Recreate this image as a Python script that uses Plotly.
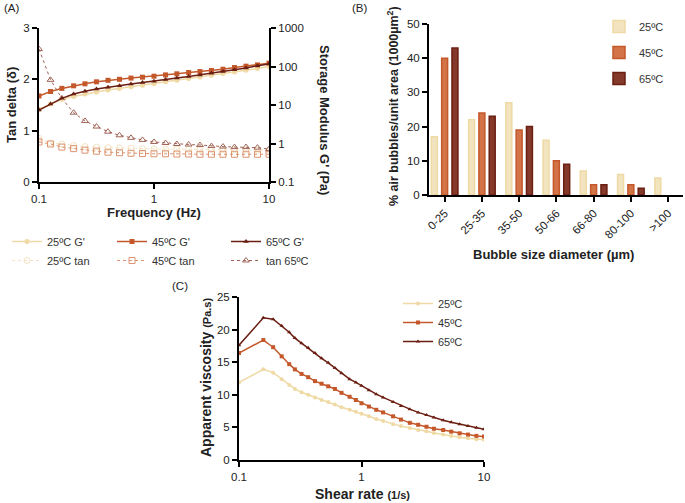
import plotly.graph_objects as go

# ---------- Panel A data ----------
freq = [0.1, 0.126, 0.158, 0.2, 0.251, 0.316, 0.398, 0.501, 0.631, 0.794, 1.0,
        1.26, 1.58, 2.0, 2.51, 3.16, 3.98, 5.01, 6.31, 7.94, 10.0]
g25 = [7.7, 10.6, 14.1, 16.6, 19.3, 21.8, 24.5, 27, 30, 32.5, 36, 40, 43.8, 48.6,
       53.5, 59, 65.5, 72.5, 80, 89, 100]
g45 = [17.2, 22.4, 27, 31.5, 35.5, 40, 43.8, 46.5, 50, 52.8, 56, 60.5, 64.5, 69.8,
       74, 79, 85, 94, 102, 110, 122]
g65 = [7.4, 10.6, 14.9, 19.3, 22.9, 25.9, 29, 31.8, 35.3, 38.4, 41.5, 45.9, 50, 55,
       60.5, 67, 74, 82, 92, 104, 117]
tan25 = [0.85, 0.76, 0.74, 0.71, 0.69, 0.68, 0.67, 0.665, 0.66, 0.65, 0.645, 0.64,
         0.64, 0.635, 0.63, 0.63, 0.63, 0.625, 0.625, 0.62, 0.62]
tan45 = [0.78, 0.74, 0.68, 0.65, 0.62, 0.60, 0.58, 0.57, 0.56, 0.555, 0.55, 0.55,
         0.545, 0.545, 0.54, 0.54, 0.54, 0.54, 0.54, 0.54, 0.54]
tan65 = [2.59, 1.99, 1.63, 1.35, 1.19, 1.08, 0.98, 0.91, 0.86, 0.82, 0.78, 0.76,
         0.74, 0.73, 0.72, 0.70, 0.69, 0.68, 0.68, 0.67, 0.64]

# ---------- Panel B data ----------
size_cats = ["0-25", "25-35", "35-50", "50-66", "66-80", "80-100", ">100"]
bub25 = [17, 22, 27, 16, 7, 6, 5]
bub45 = [40, 24, 19, 10, 3, 3, None]
bub65 = [43, 23, 20, 9, 3, 2, None]

# ---------- Panel C data ----------
shear = [0.1, 0.158, 0.19, 0.223, 0.257, 0.286, 0.324, 0.367, 0.417, 0.472, 0.535,
         0.607, 0.687, 0.8, 0.9, 1.0, 1.15, 1.32, 1.5, 1.81, 2.1, 2.48, 2.9, 3.39,
         3.9, 4.64, 5.4, 6.32, 7.4, 8.67, 10.0]
visc25 = [11.9, 13.9, 13.4, 12.4, 11.5, 10.9, 10.4, 10.0, 9.6, 9.2, 8.9, 8.5, 8.1,
          7.7, 7.4, 7.1, 6.7, 6.3, 6.0, 5.5, 5.2, 4.9, 4.6, 4.4, 4.15, 3.9, 3.7,
          3.5, 3.35, 3.2, 3.1]
visc45 = [16.4, 18.4, 17.3, 15.9, 14.7, 13.9, 13.2, 12.7, 12.1, 11.7, 11.3, 10.9,
          10.3, 9.7, 9.2, 8.7, 8.2, 7.7, 7.3, 6.7, 6.2, 5.7, 5.4, 5.1, 4.8, 4.6,
          4.35, 4.1, 3.9, 3.7, 3.6]
visc65 = [17.6, 21.8, 21.6, 20.6, 19.6, 18.7, 17.9, 17.2, 16.4, 15.6, 14.9, 14.1,
          13.3, 12.4, 11.9, 11.4, 10.7, 10.1, 9.6, 8.9, 8.3, 7.8, 7.3, 6.9, 6.5,
          6.1, 5.8, 5.5, 5.2, 4.95, 4.7]

C25, C45, C65 = "#efd9a4", "#c4582a", "#6b1e12"
T25, T45, T65 = "#f3e3c2", "#dc9470", "#a06457"
FONT = "Liberation Sans, Arial, sans-serif"

W, H = 685, 503
def fx(px):
    return px / W
def fy(py):
    return 1 - py / H

fig = go.Figure()

# Panel A traces (three legend columns)
fig.add_trace(go.Scatter(x=freq, y=g25, name="25ºC G'", mode="lines+markers",
    line=dict(color=C25, width=1.5), marker=dict(symbol="circle", size=5, color=C25),
    xaxis="x", yaxis="y2", legend="legend"))
fig.add_trace(go.Scatter(x=freq, y=tan25, name="25ºC tan", mode="lines+markers",
    line=dict(color=T25, width=1, dash="dot"),
    marker=dict(symbol="circle-open", size=6, color=T25),
    xaxis="x", yaxis="y", legend="legend"))
fig.add_trace(go.Scatter(x=freq, y=g45, name="45ºC G'", mode="lines+markers",
    line=dict(color=C45, width=1.5), marker=dict(symbol="square", size=5, color=C45),
    xaxis="x", yaxis="y2", legend="legend4"))
fig.add_trace(go.Scatter(x=freq, y=tan45, name="45ºC tan", mode="lines+markers",
    line=dict(color=T45, width=1, dash="dot"),
    marker=dict(symbol="square-open", size=6, color=T45),
    xaxis="x", yaxis="y", legend="legend4"))
fig.add_trace(go.Scatter(x=freq, y=g65, name="65ºC G'", mode="lines+markers",
    line=dict(color=C65, width=1.5), marker=dict(symbol="triangle-up", size=5, color=C65),
    xaxis="x", yaxis="y2", legend="legend5"))
fig.add_trace(go.Scatter(x=freq, y=tan65, name="tan 65ºC", mode="lines+markers",
    line=dict(color=T65, width=1, dash="dot"),
    marker=dict(symbol="triangle-up-open", size=6, color=T65),
    xaxis="x", yaxis="y", legend="legend5"))

# Panel B traces
for vals, name, col, fill, off in [(bub25, "25ºC", C25, "#f3e4c0", -0.357),
                                    (bub45, "45ºC", C45, "#d27448", -0.08),
                                    (bub65, "65ºC", C65, "#84392b", 0.197)]:
    fig.add_trace(go.Bar(x=size_cats, y=vals, name=name, width=0.16, offset=off,
        marker=dict(color=fill, line=dict(color=col, width=1.5)),
        legendgroup="b" + name,
        xaxis="x3", yaxis="y3", legend="legend2"))

# Panel C traces
fig.add_trace(go.Scatter(x=shear, y=visc25, name="25ºC", mode="lines+markers",
    line=dict(color=C25, width=1.5), marker=dict(symbol="circle", size=4, color=C25),
    xaxis="x4", yaxis="y4", legend="legend3"))
fig.add_trace(go.Scatter(x=shear, y=visc45, name="45ºC", mode="lines+markers",
    line=dict(color=C45, width=1.5), marker=dict(symbol="square", size=4, color=C45),
    xaxis="x4", yaxis="y4", legend="legend3"))
fig.add_trace(go.Scatter(x=shear, y=visc65, name="65ºC", mode="lines+markers",
    line=dict(color=C65, width=1.5), marker=dict(symbol="triangle-up", size=4, color=C65),
    xaxis="x4", yaxis="y4", legend="legend3"))

axcommon = dict(showline=True, linecolor="black", linewidth=2, ticks="outside",
                ticklen=5, tickwidth=2, tickcolor="black", showgrid=False,
                zeroline=False, automargin=False,
                tickfont=dict(family=FONT, size=11.5, color="#222"))

legfont = dict(family=FONT, size=11, color="#333")
def leg(x, y, **kw):
    d = dict(x=fx(x), y=fy(y), xanchor="left", yanchor="top", font=legfont,
             bgcolor="rgba(0,0,0,0)")
    d.update(kw)
    return d

fig.update_layout(
    width=W, height=H, margin=dict(l=0, r=0, t=0, b=0, autoexpand=False),
    paper_bgcolor="white", plot_bgcolor="white",
    font=dict(family=FONT, color="#222"),
    barmode="overlay",
    xaxis=dict(domain=[fx(39), fx(269)], type="log", range=[-1, 1],
               tickvals=[0.1, 1, 10], ticktext=["0.1", "1", "10"],
               anchor="y", **axcommon),
    yaxis=dict(domain=[fy(182), fy(28)], range=[0, 3], tickvals=[0, 1, 2, 3],
               anchor="x", **axcommon),
    yaxis2=dict(domain=[fy(182), fy(28)], type="log", range=[-1, 3],
                tickvals=[0.1, 1, 10, 100, 1000],
                ticktext=["0.1", "1", "10", "100", "1000"],
                overlaying="y", side="right", anchor="x", **axcommon),
    xaxis3=dict(domain=[fx(429), fx(683)], range=[-0.42, 6.4], type="category",
                tickangle=-45, anchor="y3", **axcommon),
    yaxis3=dict(domain=[fy(195), fy(24)], range=[0, 50], tickvals=[0, 10, 20, 30, 40, 50],
                anchor="x3", **axcommon),
    xaxis4=dict(domain=[fx(239), fx(484)], type="log", range=[-1, 1],
                tickvals=[0.1, 1, 10], ticktext=["0.1", "1", "10"],
                anchor="y4", **axcommon),
    yaxis4=dict(domain=[fy(460), fy(297)], range=[0, 25],
                tickvals=[0, 5, 10, 15, 20, 25], anchor="x4", **axcommon),
    legend=leg(7, 227),
    legend4=leg(112, 227),
    legend5=leg(226, 227),
    legend2=leg(599, 12, tracegroupgap=7),
    legend3=leg(398, 289),
    showlegend=True,
)

ann = []
def A(text, x, y, size=13, bold=False, angle=0, xanchor="center", yanchor="middle"):
    t = f"<b>{text}</b>" if bold else text
    ann.append(dict(text=t, x=fx(x), y=fy(y), xref="paper", yref="paper",
                    showarrow=False, textangle=angle, xanchor=xanchor, yanchor=yanchor,
                    font=dict(family=FONT, size=size, color="#222")))

A("(A)", 2, 8, size=11.5, xanchor="left")
A("(B)", 350, 8, size=11.5, xanchor="left")
A("(C)", 170, 286, size=11.5, xanchor="left")
A("Tan delta (δ)", 11, 105, bold=True, angle=-90)
A("Storage Modulus G' (Pa)", 324, 120, bold=True, angle=90)
A("Frequency (Hz)", 154, 213, bold=True)
A("% air bubbles/unit area (1000µm<sup>2</sup>)", 393, 106, size=12.5, bold=True, angle=-90)
A("Bubble size diameter (µm)", 553, 254, bold=True)
A("Apparent viscosity <span style='font-size:11px'>(Pa.s)</span>", 206, 378, size=14, bold=True, angle=-90)
A("Shear rate <span style='font-size:11px'>(1/s)</span>", 362, 494, size=14, bold=True)
fig.update_layout(annotations=ann)

fig.write_html("out.html", config={"displayModeBar": False},
               post_script="document.body.style.margin='0px';document.body.style.overflow='hidden';")
